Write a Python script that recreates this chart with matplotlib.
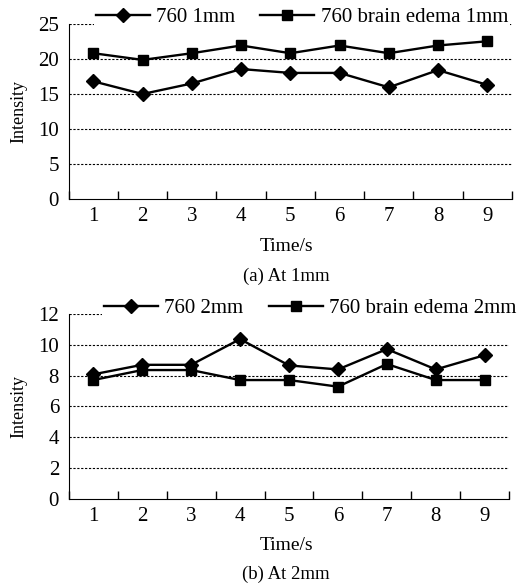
import matplotlib.pyplot as plt
import numpy as np

plt.rcParams['font.family'] = ['Liberation Serif', 'DejaVu Serif']

# 数据
times = [1, 2, 3, 4, 5, 6, 7, 8, 9]
a_760 = [16.8, 15.0, 16.5, 18.55, 18.0, 18.0, 15.95, 18.4, 16.3]
a_edema = [20.8, 19.85, 20.8, 21.9, 20.8, 21.9, 20.8, 21.9, 22.5]
b_760 = [8.08, 8.7, 8.7, 10.37, 8.66, 8.4, 9.72, 8.4, 9.33]
b_edema = [7.71, 8.36, 8.36, 7.71, 7.71, 7.28, 8.75, 7.71, 7.71]

fig = plt.figure(figsize=(5.25, 5.85), dpi=100)
ax1 = fig.add_axes([0.131, 0.659, 0.844, 0.3005])
ax2 = fig.add_axes([0.131, 0.1475, 0.839, 0.3157])


def draw(ax, y1, y2, lab1, lab2, ymax, ystep, leg_x, leg_y, xlab_y, cap, cap_y):
    ax.plot(times, y1, color='black', lw=1.7, marker='D', ms=7, label=lab1)
    ax.plot(times, y2, color='black', lw=1.7, marker='s', ms=7.5, label=lab2)
    ax.set_xlim(0.5, 9.5)
    ax.set_ylim(0, ymax)
    ax.set_yticks(np.arange(0, ymax + 0.1, ystep))
    ax.set_xticks(np.arange(0.5, 9.6, 1))
    ax.set_xticklabels([])
    for t in times:
        ax.text(t, -0.045 * ymax, str(t), ha='center', va='top', fontsize=15,
                transform=ax.transData)
    ax.tick_params(axis='x', direction='in', length=6, width=1)
    ax.tick_params(axis='y', length=0, labelsize=15, pad=7)
    for v in np.arange(ystep, ymax + 0.1, ystep):
        ax.axhline(v, color='black', lw=0.8, ls=(0, (2, 1.5)), zorder=0)
    ax.spines['top'].set_visible(False)
    ax.spines['right'].set_visible(False)
    ax.set_ylabel('Intensity', fontsize=13, labelpad=7.5)
    leg = ax.legend(loc='center', bbox_to_anchor=(leg_x, leg_y), ncol=2, fontsize=15,
                    handlelength=2.6, handletextpad=0.3, columnspacing=1.2,
                    frameon=True, borderpad=0.1)
    leg.get_frame().set_edgecolor('none')
    leg.get_frame().set_facecolor('white')
    leg.get_frame().set_alpha(1)
    fig.text(0.545, xlab_y, 'Time/s', ha='center', va='center', fontsize=14)
    fig.text(0.545, cap_y, cap, ha='center', va='center', fontsize=13.5)


draw(ax1, a_760, a_edema, '760 1mm', '760 brain edema 1mm', 25, 5, 0.526, 1.038,
     1 - 246 / 585, '(a) At 1mm', 1 - 276 / 585)
draw(ax2, b_760, b_edema, '760 2mm', '760 brain edema 2mm', 12, 2, 0.548, 1.032,
     1 - 546 / 585, '(b) At 2mm', 1 - 574 / 585)

fig.savefig('out.png', dpi=100)
